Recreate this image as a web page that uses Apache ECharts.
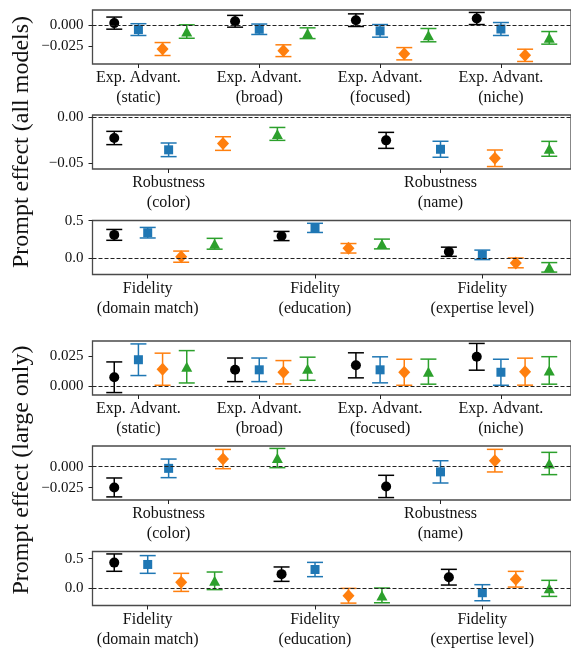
<!DOCTYPE html>
<html>
<head>
<meta charset="utf-8">
<script src="https://cdn.jsdelivr.net/npm/echarts@6/dist/echarts.min.js"></script>
<style>
html,body{margin:0;padding:0;background:#fff;}
#c{width:571px;height:650px;}
</style>
</head>
<body>
<div id="c"></div>
<script>
// ---------- categories ----------
const catsExp = ['Exp. Advant.\n(static)', 'Exp. Advant.\n(broad)', 'Exp. Advant.\n(focused)', 'Exp. Advant.\n(niche)'];
const catsRob = ['Robustness\n(color)', 'Robustness\n(name)'];
const catsFid = ['Fidelity\n(domain match)', 'Fidelity\n(education)', 'Fidelity\n(expertise level)'];

// model order: black circle, blue square, orange diamond, green triangle
const modelNames = ['Model A', 'Model B', 'Model C', 'Model D'];

// ---------- all models ----------
const expAllMean = [
  [0.0020, 0.0042, 0.0055, 0.0075],
  [-0.0057, -0.0053, -0.0072, -0.0050],
  [-0.0288, -0.0308, -0.0344, -0.0363],
  [-0.0080, -0.0100, -0.0123, -0.0155]
];
const expAllErr = [
  [0.0072, 0.0070, 0.0075, 0.0072],
  [0.0070, 0.0062, 0.0075, 0.0077],
  [0.0077, 0.0070, 0.0073, 0.0073],
  [0.0080, 0.0064, 0.0079, 0.0075]
];
const robAllMean = [
  [-0.0226, -0.0252],
  [-0.0356, -0.0350],
  [-0.0287, -0.0449],
  [-0.0181, -0.0345]
];
const robAllErr = [
  [0.0073, 0.0088],
  [0.0075, 0.0088],
  [0.0075, 0.0091],
  [0.0071, 0.0082]
];
const fidAllMean = [
  [0.311, 0.296, 0.087],
  [0.340, 0.404, 0.046],
  [0.022, 0.133, -0.061],
  [0.193, 0.190, -0.120]
];
const fidAllErr = [
  [0.072, 0.061, 0.061],
  [0.070, 0.061, 0.063],
  [0.074, 0.063, 0.065],
  [0.072, 0.065, 0.063]
];

// ---------- large only ----------
const expLargeMean = [
  [0.0074, 0.0135, 0.0172, 0.0242],
  [0.0218, 0.0135, 0.0135, 0.0115],
  [0.0140, 0.0115, 0.0115, 0.0120],
  [0.0160, 0.0144, 0.0120, 0.0130]
];
const expLargeErr = [
  [0.0126, 0.0097, 0.0103, 0.0110],
  [0.0130, 0.0097, 0.0107, 0.0107],
  [0.0132, 0.0096, 0.0107, 0.0111],
  [0.0133, 0.0095, 0.0103, 0.0113]
];
const robLargeMean = [
  [-0.0248, -0.0236],
  [-0.0020, -0.0062],
  [0.0091, 0.0072],
  [0.0103, 0.0038]
];
const robLargeErr = [
  [0.0113, 0.0133],
  [0.0111, 0.0133],
  [0.0115, 0.0135],
  [0.0115, 0.0133]
];
const fidLargeMean = [
  [0.433, 0.239, 0.188],
  [0.402, 0.317, -0.073],
  [0.101, -0.124, 0.154],
  [0.127, -0.118, 0.000]
];
const fidLargeErr = [
  [0.146, 0.121, 0.132],
  [0.149, 0.120, 0.135],
  [0.152, 0.124, 0.132],
  [0.148, 0.124, 0.135]
];

// tick values on y axes
const yTicksExpAll = [-0.025, 0];
const yTicksRobAll = [-0.05, 0];
const yTicksFid = [0, 0.5];
const yTicksExpLarge = [0, 0.025];
const yTicksRobLarge = [-0.025, 0];

// ---------- styling ----------
const colors = ['#000000', '#1f77b4', '#ff7f0e', '#2ca02c'];
const symbols = ['circle', 'rect', 'diamond', 'triangle'];
const symSizes = [10, 9, [12, 13], [11, 10]];
const FONT = 'Liberation Serif';

const panels = [
  {cats: catsExp, mean: expAllMean, err: expAllErr, ymin: -0.0466, ymax: 0.0176, yt: yTicksExpAll, dec: 3, xmin: -0.38, xmax: 3.58, top: 10},
  {cats: catsRob, mean: robAllMean, err: robAllErr, ymin: -0.0567, ymax: 0.0027, yt: yTicksRobAll, dec: 2, xmin: -0.28, xmax: 1.48, top: 115},
  {cats: catsFid, mean: fidAllMean, err: fidAllErr, ymin: -0.215, ymax: 0.502, yt: yTicksFid, dec: 1, xmin: -0.33, xmax: 2.53, top: 220.5},
  {cats: catsExp, mean: expLargeMean, err: expLargeErr, ymin: -0.0072, ymax: 0.0372, yt: yTicksExpLarge, dec: 3, xmin: -0.38, xmax: 3.58, top: 341},
  {cats: catsRob, mean: robLargeMean, err: robLargeErr, ymin: -0.0398, ymax: 0.0247, yt: yTicksRobLarge, dec: 3, xmin: -0.28, xmax: 1.48, top: 446},
  {cats: catsFid, mean: fidLargeMean, err: fidLargeErr, ymin: -0.288, ymax: 0.62, yt: yTicksFid, dec: 1, xmin: -0.33, xmax: 2.53, top: 551.5}
];
const PH = 54;

function fmtY(v, d) {
  const s = Math.abs(v).toFixed(d);
  return (v < -1e-12 ? '\u2212' : '') + s;
}

const grid = [], xAxis = [], yAxis = [], series = [];
panels.forEach((p, gi) => {
  grid.push({left: 92.5, right: -2, top: p.top, height: PH, show: true,
    borderColor: '#4a4a4a', borderWidth: 1.3, backgroundColor: 'transparent', containLabel: false});
  const idx = p.cats.map((_, i) => i);
  xAxis.push({type: 'value', gridIndex: gi, min: p.xmin, max: p.xmax,
    axisLine: {show: false, onZero: false}, splitLine: {show: false},
    axisTick: {show: true, customValues: idx, length: 4, inside: false, lineStyle: {color: '#222', width: 1}},
    axisLabel: {show: true, customValues: idx, margin: 4, color: '#111', fontFamily: FONT, fontSize: 16, lineHeight: 20,
      formatter: v => p.cats[Math.round(v)]}
  });
  yAxis.push({type: 'value', gridIndex: gi, min: p.ymin, max: p.ymax,
    axisLine: {show: false, onZero: false}, splitLine: {show: false},
    axisTick: {show: true, customValues: p.yt, length: 4, lineStyle: {color: '#222', width: 1}},
    axisLabel: {show: true, customValues: p.yt, margin: 9, color: '#111', fontFamily: FONT, fontSize: 15,
      formatter: v => fmtY(v, p.dec)}
  });
  modelNames.forEach((name, j) => {
    const data = p.cats.map((_, i) => [i + (j - 1) * 0.2, p.mean[j][i], p.err[j][i]]);
    const col = colors[j];
    series.push({
      type: 'custom', name: name, xAxisIndex: gi, yAxisIndex: gi, data: data, z: 3, silent: true,
      encode: {x: 0, y: 1},
      renderItem: (params, api) => {
        const x = api.value(0), y = api.value(1), e = api.value(2);
        const t = api.coord([x, y + e]), b = api.coord([x, y - e]);
        const hw = 8, st = {stroke: col, lineWidth: 1.5};
        return {type: 'group', children: [
          {type: 'line', shape: {x1: t[0], y1: t[1], x2: b[0], y2: b[1]}, style: st},
          {type: 'line', shape: {x1: t[0] - hw, y1: t[1], x2: t[0] + hw, y2: t[1]}, style: st},
          {type: 'line', shape: {x1: b[0] - hw, y1: b[1], x2: b[0] + hw, y2: b[1]}, style: st}
        ]};
      }
    });
    series.push({
      type: 'scatter', name: name, xAxisIndex: gi, yAxisIndex: gi, z: 4, silent: true,
      data: data.map(d => [d[0], d[1]]),
      symbol: symbols[j], symbolSize: symSizes[j],
      itemStyle: {color: col, opacity: 1},
      markLine: j === 0 ? {silent: true, symbol: ['none', 'none'], label: {show: false},
        lineStyle: {color: '#222', type: [4, 2], width: 1}, data: [{yAxis: 0}], animation: false} : undefined
    });
  });
});

const chart = echarts.init(document.getElementById('c'), null, {renderer: 'canvas'});
chart.setOption({
  animation: false,
  backgroundColor: '#ffffff',
  grid, xAxis, yAxis, series,
  graphic: [
    {type: 'text', x: 22, y: 142, rotation: Math.PI / 2,
      style: {text: 'Prompt effect (all models)', font: '24px "Liberation Serif"', fill: '#111', align: 'center', verticalAlign: 'middle'}},
    {type: 'text', x: 22, y: 470, rotation: Math.PI / 2,
      style: {text: 'Prompt effect (large only)', font: '24px "Liberation Serif"', fill: '#111', align: 'center', verticalAlign: 'middle'}}
  ]
});
</script>
</body>
</html>
